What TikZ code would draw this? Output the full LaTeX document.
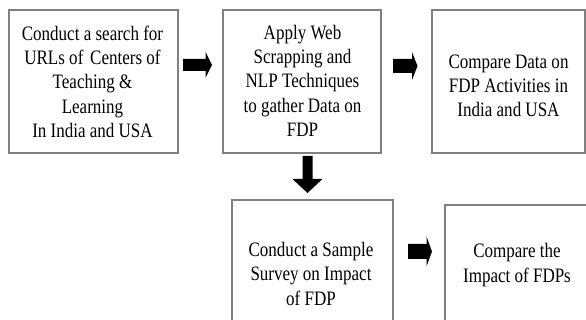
\documentclass[tikz,border=0pt]{standalone}
\usepackage{fontspec}
\setmainfont[FakeStretch=0.83]{Liberation Serif}
\begin{document}
\begin{tikzpicture}[x=1pt,y=1pt,
  stepbox/.style={draw=boxgray, line width=1.3pt, fill=white, inner sep=0pt},
  steptext/.style={align=center, inner sep=0pt, text=black,
    font=\fontsize{20.5}{24.3}\selectfont},
  pics/blockarrow/.style n args={4}{code={
    % tail at the origin, pointing along +x: length, shaft half-width,
    % head half-width, head length
    \fill[black] (0,-#2) -- ({#1-#4},-#2) -- ({#1-#4},-#3) -- (#1,0)
      -- ({#1-#4},#3) -- ({#1-#4},#2) -- (0,#2) -- cycle;
  }}]
\definecolor{boxgray}{HTML}{808080}
\useasboundingbox (0,0) rectangle (586,320);
\clip (0,0) rectangle (586,320);

% process boxes
\node[stepbox, minimum width=169, minimum height=143] (search) at (93.5,238.5) {};
\node[stepbox, minimum width=158, minimum height=143] (scrape) at (302,238.5) {};
\node[stepbox, minimum width=153, minimum height=143] (compare) at (508.5,238.5) {};
\node[stepbox, minimum width=161, minimum height=140] (survey) at (312.5,50) {};
\node[stepbox, minimum width=145, minimum height=135] (impact) at (517.5,47.5) {};

% box texts
\node[steptext] (searchtxt) at (92.5,238.4)
  {Conduct a search for\\URLs of\,\,Centers of\\Teaching \&\\Learning\\In India and USA};
\node[steptext] (scrapetxt) at (302.5,239.2)
  {Apply Web\\Scrapping and\\NLP Techniques\\to gather Data on\\FDP};
\node[steptext] (comparetxt) at (508.5,234)
  {Compare Data on\\FDP Activities in\\India and USA};
\node[steptext] (surveytxt) at (311,46.3)
  {Conduct a Sample\\Survey on Impact\\of FDP};
\node[steptext] (impacttxt) at (517,55)
  {Compare the\\Impact of FDPs};

% block arrows between the steps
\coordinate (a1) at (183,255);
\coordinate (a2) at (393,254);
\coordinate (a3) at (307.5,164);
\coordinate (a4) at (408,68.5);
\pic at (a1) {blockarrow={29}{6}{13}{6.5}};
\pic at (a2) {blockarrow={24.5}{7}{14}{5.5}};
\pic[rotate=-90] at (a3) {blockarrow={37}{5}{15}{14}};
\pic at (a4) {blockarrow={24}{7.5}{15}{5.5}};
\end{tikzpicture}
\end{document}
